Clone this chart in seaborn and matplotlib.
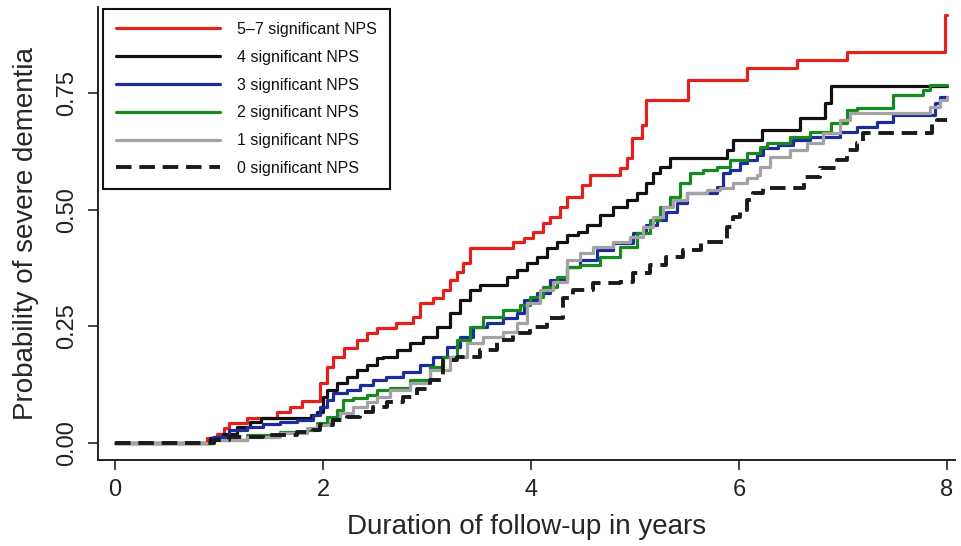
import numpy as np
import pandas as pd
import seaborn as sns
import matplotlib
matplotlib.use("Agg")
import matplotlib.pyplot as plt

# step curves: (time in years, cumulative probability)
t_57 = [0, 0.88, 0.98, 1.05, 1.10, 1.27, 1.56, 1.68, 1.80, 1.97, 2.04, 2.10, 2.20, 2.33, 2.42,
        2.52, 2.70, 2.87, 2.93, 3.06, 3.15, 3.22, 3.29, 3.35, 3.41, 3.83, 3.93, 4.02, 4.12, 4.18,
        4.28, 4.35, 4.49, 4.57, 4.86, 4.92, 4.97, 5.07, 5.11, 5.51, 6.08, 6.56, 7.04, 7.98, 8.0]
p_57 = [0, 0.010, 0.020, 0.032, 0.043, 0.054, 0.066, 0.077, 0.090, 0.128, 0.163, 0.184, 0.203, 0.221, 0.236,
        0.246, 0.257, 0.270, 0.300, 0.310, 0.328, 0.349, 0.366, 0.386, 0.418, 0.431, 0.439, 0.452, 0.471, 0.484,
        0.506, 0.527, 0.553, 0.574, 0.589, 0.611, 0.654, 0.681, 0.735, 0.778, 0.803, 0.821, 0.838, 0.917, 0.917]

t_4 = [0, 0.91, 1.04, 1.17, 1.30, 1.40, 1.88, 1.94, 2.00, 2.04, 2.13, 2.23, 2.33, 2.42, 2.52,
       2.58, 2.71, 2.84, 2.96, 3.10, 3.22, 3.32, 3.41, 3.51, 3.77, 3.87, 3.96, 4.06, 4.15, 4.25,
       4.35, 4.45, 4.54, 4.66, 4.79, 4.92, 5.02, 5.11, 5.17, 5.24, 5.34, 5.88, 5.94, 6.22, 6.59,
       6.83, 6.88, 8.0]
p_4 = [0, 0.010, 0.020, 0.034, 0.045, 0.054, 0.060, 0.066, 0.099, 0.114, 0.128, 0.141, 0.156, 0.167, 0.182,
       0.184, 0.199, 0.214, 0.227, 0.249, 0.279, 0.306, 0.328, 0.339, 0.356, 0.371, 0.386, 0.399, 0.418, 0.431,
       0.446, 0.452, 0.467, 0.489, 0.506, 0.521, 0.536, 0.557, 0.579, 0.591, 0.611, 0.628, 0.649, 0.671, 0.696,
       0.729, 0.765, 0.765]

t_3 = [0, 0.94, 1.10, 1.27, 1.42, 1.59, 1.75, 1.90, 1.97, 2.04, 2.10, 2.23, 2.36, 2.48, 2.61,
       2.77, 2.93, 3.06, 3.19, 3.32, 3.44, 3.58, 3.73, 3.87, 3.93, 4.06, 4.18, 4.35, 4.47, 4.63,
       4.79, 4.98, 5.11, 5.21, 5.30, 5.40, 5.50, 5.79, 5.85, 5.91, 6.01, 6.08, 6.17, 6.23, 6.37,
       6.52, 6.68, 6.97, 7.13, 7.33, 7.48, 7.88, 7.93, 8.0]
p_3 = [0, 0.013, 0.028, 0.034, 0.041, 0.045, 0.049, 0.060, 0.077, 0.092, 0.107, 0.114, 0.124, 0.135, 0.141,
       0.152, 0.167, 0.184, 0.206, 0.227, 0.249, 0.257, 0.268, 0.279, 0.306, 0.321, 0.349, 0.377, 0.392, 0.414,
       0.429, 0.450, 0.467, 0.478, 0.495, 0.514, 0.536, 0.549, 0.579, 0.585, 0.600, 0.606, 0.617, 0.632, 0.638,
       0.649, 0.656, 0.666, 0.677, 0.688, 0.703, 0.729, 0.741, 0.741]

t_2 = [0, 0.95, 1.27, 1.59, 1.85, 1.94, 2.04, 2.13, 2.19, 2.29, 2.42, 2.52, 2.64, 2.84, 3.03,
       3.15, 3.29, 3.41, 3.54, 3.73, 3.89, 3.99, 4.12, 4.25, 4.35, 4.47, 4.66, 4.86, 5.02, 5.14,
       5.24, 5.34, 5.43, 5.53, 5.65, 5.79, 5.91, 6.08, 6.20, 6.27, 6.49, 6.68, 6.88, 7.04, 7.13,
       7.48, 7.77, 7.84, 8.0]
p_2 = [0, 0.006, 0.017, 0.024, 0.028, 0.043, 0.056, 0.071, 0.092, 0.096, 0.103, 0.114, 0.118, 0.135, 0.163,
       0.184, 0.221, 0.249, 0.270, 0.285, 0.296, 0.313, 0.334, 0.356, 0.377, 0.382, 0.399, 0.420, 0.450, 0.478,
       0.506, 0.527, 0.557, 0.579, 0.585, 0.591, 0.606, 0.621, 0.634, 0.643, 0.656, 0.666, 0.686, 0.714, 0.718,
       0.746, 0.756, 0.767, 0.767]

t_1 = [0, 0.95, 1.27, 1.59, 1.85, 1.94, 2.07, 2.16, 2.29, 2.42, 2.52, 2.64, 2.84, 3.03, 3.22,
       3.38, 3.54, 3.73, 3.87, 3.96, 4.09, 4.21, 4.35, 4.47, 4.60, 4.79, 4.95, 5.08, 5.17, 5.27,
       5.37, 5.50, 5.69, 5.82, 5.94, 6.08, 6.17, 6.20, 6.30, 6.49, 6.65, 6.81, 6.97, 7.07, 7.84,
       7.93, 8.0]
p_1 = [0, 0.006, 0.013, 0.021, 0.032, 0.039, 0.049, 0.064, 0.077, 0.088, 0.099, 0.114, 0.128, 0.156, 0.184,
       0.214, 0.227, 0.238, 0.257, 0.300, 0.328, 0.345, 0.392, 0.407, 0.420, 0.431, 0.441, 0.463, 0.484, 0.506,
       0.521, 0.536, 0.542, 0.546, 0.557, 0.568, 0.574, 0.591, 0.613, 0.628, 0.643, 0.664, 0.692, 0.707, 0.720,
       0.735, 0.741]

t_0 = [0, 0.95, 1.10, 1.42, 1.75, 1.90, 1.97, 2.10, 2.23, 2.36, 2.48, 2.62, 2.77, 2.90, 3.03,
       3.15, 3.29, 3.51, 3.67, 3.83, 3.99, 4.15, 4.31, 4.40, 4.60, 4.86, 4.98, 5.14, 5.30, 5.46,
       5.63, 5.88, 5.94, 6.01, 6.08, 6.13, 6.23, 6.62, 6.78, 6.94, 7.04, 7.13, 7.19, 7.86, 7.90,
       8.0]
p_0 = [0, 0.006, 0.013, 0.017, 0.024, 0.028, 0.039, 0.049, 0.056, 0.066, 0.077, 0.088, 0.099, 0.115, 0.135,
       0.178, 0.184, 0.199, 0.221, 0.236, 0.249, 0.268, 0.311, 0.328, 0.343, 0.345, 0.364, 0.381, 0.399, 0.414,
       0.431, 0.463, 0.484, 0.499, 0.521, 0.536, 0.546, 0.570, 0.589, 0.606, 0.628, 0.643, 0.664, 0.686, 0.692,
       0.692]

labels = ["5\u20137 significant NPS", "4 significant NPS", "3 significant NPS",
          "2 significant NPS", "1 significant NPS", "0 significant NPS"]
times = [t_57, t_4, t_3, t_2, t_1, t_0]
probs = [p_57, p_4, p_3, p_2, p_1, p_0]
colors = ["#e3201b", "#111111", "#1c2c9c", "#178a1f", "#a3a3a3", "#1a1a1a"]

sns.set_style("white")
plt.rcParams["font.family"] = ["Liberation Sans", "DejaVu Sans"]

fig = plt.figure(figsize=(9.61, 5.46), dpi=100)
ax = fig.add_axes([0.102, 0.1575, 0.8918, 0.8297])

for t, p, lab, c in zip(times, probs, labels, colors):
    dashed = lab.startswith("0 ")
    sns.lineplot(x=t, y=p, ax=ax, color=c, label=lab, drawstyle="steps-post",
                 estimator=None, sort=False,
                 linewidth=2.8 if dashed else 2.3,
                 linestyle=(0, (4.0, 2.0)) if dashed else "-")

ax.set_xlim(-0.163, 8.077)
ax.set_ylim(-0.0364, 0.934)
ax.set_xticks([0, 2, 4, 6, 8])
ax.set_yticks([0, 0.25, 0.5, 0.75])
ax.set_yticklabels(["0.00", "0.25", "0.50", "0.75"], rotation=90, va="center")
ax.tick_params(axis="both", labelsize=17, length=7, width=1.2, direction="out",
               bottom=True, left=True, pad=7, colors="#222222")
ax.set_xlabel("Duration of follow-up in years", fontsize=20, labelpad=9)
ax.set_ylabel("Probability of severe dementia", fontsize=20, labelpad=13)

sns.despine(ax=ax)
for s in ["left", "bottom"]:
    ax.spines[s].set_linewidth(1.4)
    ax.spines[s].set_color("#222222")

leg = ax.legend(loc="upper left", bbox_to_anchor=(0.006, 0.995), borderaxespad=0,
                fontsize=11.5, handlelength=6.5, handletextpad=1.1, labelspacing=0.8,
                borderpad=0.8, fancybox=False, framealpha=1, edgecolor="#111111")
leg.get_frame().set_linewidth(1.5)
for txt in leg.get_texts():
    txt.set_color("#111111")

fig.savefig("out.png", dpi=100)
